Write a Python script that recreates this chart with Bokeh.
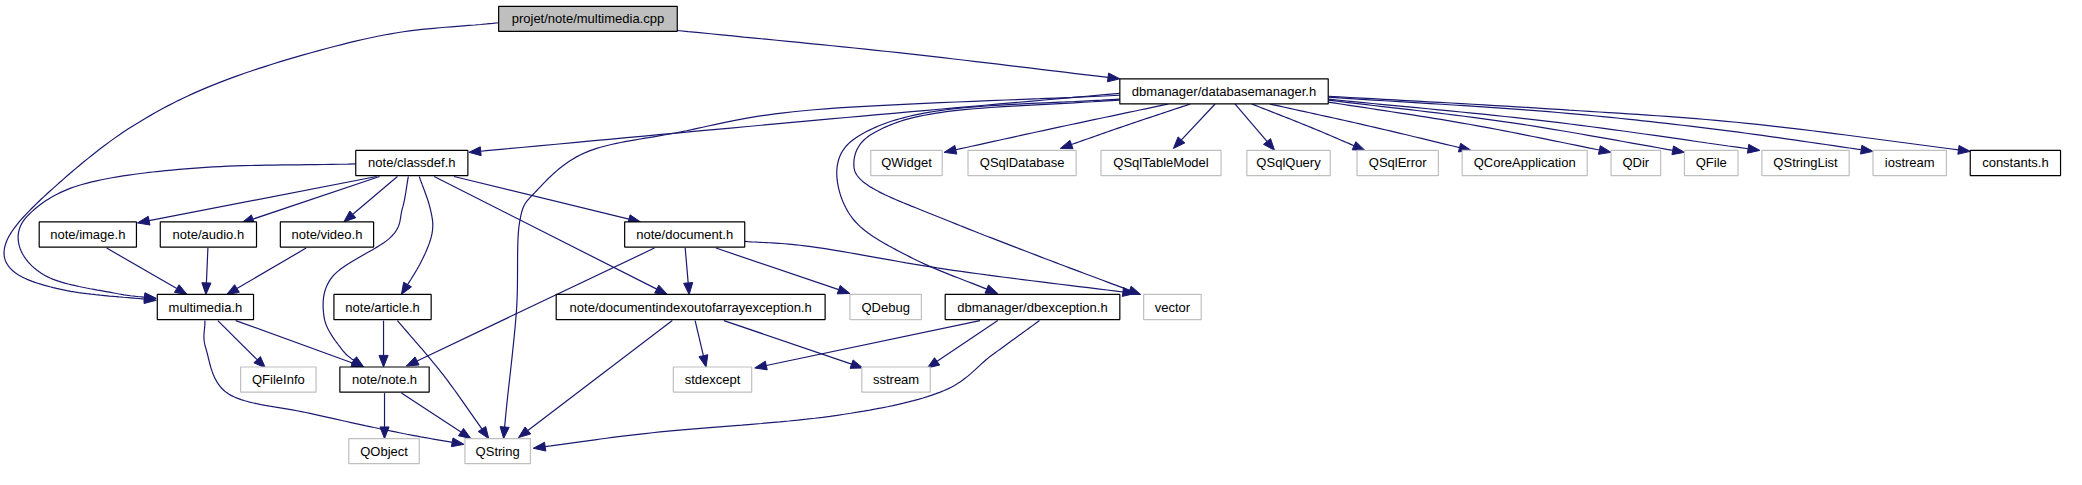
from bokeh.plotting import figure
from bokeh.models import Range1d
from bokeh.core.properties import value
from bokeh.embed import file_html
from bokeh.resources import INLINE
import numpy as np

# include graph of projet/note/multimedia.cpp
labels = [
    "projet/note/multimedia.cpp", "dbmanager/databasemanager.h", "note/classdef.h",
    "QWidget", "QSqlDatabase", "QSqlTableModel", "QSqlQuery", "QSqlError",
    "QCoreApplication", "QDir", "QFile", "QStringList", "iostream", "constants.h",
    "note/image.h", "note/audio.h", "note/video.h", "note/document.h",
    "multimedia.h", "note/article.h", "note/documentindexoutofarrayexception.h",
    "QDebug", "dbmanager/dbexception.h", "vector", "QFileInfo", "note/note.h",
    "stdexcept", "sstream", "QObject", "QString",
]
# root = the file itself, doc = documented header, ext = external header
kinds = [
    "root", "doc", "doc",
    "ext", "ext", "ext", "ext", "ext",
    "ext", "ext", "ext", "ext", "ext", "doc",
    "doc", "doc", "doc", "doc",
    "doc", "doc", "doc",
    "ext", "doc", "ext", "ext", "doc",
    "ext", "ext", "ext", "ext",
]
edges = [
    ("projet/note/multimedia.cpp", "dbmanager/databasemanager.h"),
    ("projet/note/multimedia.cpp", "multimedia.h"),
    ("dbmanager/databasemanager.h", "note/classdef.h"),
    ("dbmanager/databasemanager.h", "QString"),
    ("dbmanager/databasemanager.h", "dbmanager/dbexception.h"),
    ("dbmanager/databasemanager.h", "vector"),
    ("dbmanager/databasemanager.h", "QWidget"),
    ("dbmanager/databasemanager.h", "QSqlDatabase"),
    ("dbmanager/databasemanager.h", "QSqlTableModel"),
    ("dbmanager/databasemanager.h", "QSqlQuery"),
    ("dbmanager/databasemanager.h", "QSqlError"),
    ("dbmanager/databasemanager.h", "QCoreApplication"),
    ("dbmanager/databasemanager.h", "QDir"),
    ("dbmanager/databasemanager.h", "QFile"),
    ("dbmanager/databasemanager.h", "QStringList"),
    ("dbmanager/databasemanager.h", "iostream"),
    ("dbmanager/databasemanager.h", "constants.h"),
    ("note/classdef.h", "multimedia.h"),
    ("note/classdef.h", "note/image.h"),
    ("note/classdef.h", "note/audio.h"),
    ("note/classdef.h", "note/video.h"),
    ("note/classdef.h", "note/note.h"),
    ("note/classdef.h", "note/article.h"),
    ("note/classdef.h", "note/documentindexoutofarrayexception.h"),
    ("note/classdef.h", "note/document.h"),
    ("note/image.h", "multimedia.h"),
    ("note/audio.h", "multimedia.h"),
    ("note/video.h", "multimedia.h"),
    ("note/document.h", "note/note.h"),
    ("note/document.h", "note/documentindexoutofarrayexception.h"),
    ("note/document.h", "QDebug"),
    ("note/document.h", "vector"),
    ("multimedia.h", "QFileInfo"),
    ("multimedia.h", "note/note.h"),
    ("multimedia.h", "QString"),
    ("note/article.h", "note/note.h"),
    ("note/article.h", "QString"),
    ("note/note.h", "QObject"),
    ("note/note.h", "QString"),
    ("note/documentindexoutofarrayexception.h", "QString"),
    ("note/documentindexoutofarrayexception.h", "stdexcept"),
    ("note/documentindexoutofarrayexception.h", "sstream"),
    ("dbmanager/dbexception.h", "stdexcept"),
    ("dbmanager/dbexception.h", "sstream"),
    ("dbmanager/dbexception.h", "QString"),
]

# layout as produced by dot (pixels, y downwards): left, right, rank
rank_top = [6, 81, 155, 229, 304, 379, 453]
box_h = 26
layout = {
    "projet/note/multimedia.cpp": (502, 682, 0),
    "dbmanager/databasemanager.h": (1128, 1338, 1),
    "note/classdef.h": (358, 471, 2),
    "QWidget": (877, 949, 2),
    "QSqlDatabase": (975, 1084, 2),
    "QSqlTableModel": (1109, 1230, 2),
    "QSqlQuery": (1256, 1340, 2),
    "QSqlError": (1367, 1449, 2),
    "QCoreApplication": (1473, 1599, 2),
    "QDir": (1623, 1673, 2),
    "QFile": (1697, 1751, 2),
    "QStringList": (1775, 1863, 2),
    "iostream": (1887, 1961, 2),
    "constants.h": (1985, 2076, 2),
    "note/image.h": (39, 137, 3),
    "note/audio.h": (161, 258, 3),
    "note/video.h": (282, 376, 3),
    "note/document.h": (629, 750, 3),
    "multimedia.h": (158, 255, 4),
    "note/article.h": (336, 434, 4),
    "note/documentindexoutofarrayexception.h": (560, 831, 4),
    "QDebug": (856, 928, 4),
    "dbmanager/dbexception.h": (952, 1128, 4),
    "vector": (1152, 1210, 4),
    "QFileInfo": (242, 318, 5),
    "note/note.h": (342, 432, 5),
    "stdexcept": (678, 757, 5),
    "sstream": (868, 937, 5),
    "QObject": (351, 422, 6),
    "QString": (468, 534, 6),
}

# spline waypoints of each edge, start ... arrow tip
routes = [
    [(682, 31), (905, 54), (1128, 81)],
    [(502, 23), (380, 37), (233, 80), (133, 130), (50, 197), (7, 247), (13, 280), (67, 300), (157, 310)],
    [(1128, 96), (820, 124), (472, 157)],
    [(1128, 98), (820, 113), (680, 137), (590, 157), (540, 197), (523, 230), (520, 320), (510, 420), (507, 453)],
    [(1128, 102), (953, 113), (870, 137), (843, 173), (860, 227), (920, 267), (1005, 303)],
    [(1128, 103), (953, 115), (880, 137), (860, 167), (877, 193), (953, 227), (1053, 267), (1149, 304)],
    [(1177, 107), (1062, 132), (951, 157)],
    [(1199, 107), (1132, 130), (1068, 153)],
    [(1224, 107), (1182, 153)],
    [(1244, 107), (1284, 155)],
    [(1261, 107), (1320, 131), (1375, 155)],
    [(1279, 107), (1380, 130), (1482, 155)],
    [(1338, 105), (1480, 128), (1623, 157)],
    [(1338, 103), (1520, 126), (1697, 157)],
    [(1338, 102), (1560, 125), (1773, 155)],
    [(1338, 100), (1560, 115), (1727, 133), (1887, 156)],
    [(1338, 99), (1560, 112), (1760, 127), (1985, 156)],
    [(358, 169), (200, 173), (83, 190), (27, 223), (20, 257), (50, 287), (117, 303), (157, 308)],
    [(379, 182), (138, 230)],
    [(382, 182), (243, 230)],
    [(400, 182), (346, 229)],
    [(411, 182), (405, 215), (393, 245), (335, 285), (326, 327), (345, 362), (366, 379)],
    [(422, 182), (433, 215), (435, 240), (424, 270), (404, 304)],
    [(437, 182), (672, 304)],
    [(457, 182), (645, 229)],
    [(107, 256), (188, 304)],
    [(209, 256), (207, 304)],
    [(308, 256), (228, 304)],
    [(659, 256), (409, 378)],
    [(690, 256), (694, 304)],
    [(721, 256), (856, 303)],
    [(750, 249), (820, 255), (960, 279), (1143, 303)],
    [(219, 331), (267, 380)],
    [(237, 331), (366, 379)],
    [(206, 331), (207, 360), (230, 407), (312, 427), (402, 447), (467, 459)],
    [(386, 331), (386, 379)],
    [(400, 331), (446, 387), (492, 453)],
    [(387, 406), (387, 453)],
    [(404, 406), (474, 453)],
    [(677, 331), (522, 452)],
    [(700, 331), (711, 379)],
    [(729, 331), (869, 380)],
    [(987, 331), (760, 380)],
    [(1005, 331), (934, 380)],
    [(1047, 331), (1000, 366), (947, 405), (836, 430), (657, 447), (537, 463)],
]

EDGE = "#191970"


def smooth(pts, n=20):
    pts = np.array(pts, dtype=float)
    if len(pts) < 3:
        return pts
    ext = np.vstack([2 * pts[0] - pts[1], pts, 2 * pts[-1] - pts[-2]])
    out = []
    for i in range(1, len(ext) - 2):
        p0, p1, p2, p3 = ext[i - 1], ext[i], ext[i + 1], ext[i + 2]
        for t in np.linspace(0, 1, n, endpoint=False):
            out.append(0.5 * (2 * p1 + (p2 - p0) * t
                              + (2 * p0 - 5 * p1 + 4 * p2 - p3) * t * t
                              + (3 * p1 - p0 - 3 * p2 + p3) * t ** 3))
    out.append(pts[-1])
    return np.array(out)


def main():
    p = figure(width=2066, height=469, output_backend="svg", toolbar_location=None,
               x_range=Range1d(0, 2082), y_range=Range1d(485, 0), min_border=0)
    p.axis.visible = False
    p.grid.visible = False
    p.outline_line_color = None
    p.background_fill_color = "white"

    # edges: spline body + filled arrow head
    line_xs, line_ys, head_xs, head_ys = [], [], [], []
    L, W = 12.0, 4.6
    for route in routes:
        c = smooth(route)
        tip = c[-1]
        d = np.linalg.norm(c - tip, axis=1)
        back = c[np.argmax(d < L)] if np.any(d < L) else c[0]
        u = (tip - c[d >= L][-1]) if np.any(d >= L) else (tip - c[0])
        u = u / np.linalg.norm(u)
        base = tip - u * L
        keep = c[d > L]
        pts = np.vstack([keep, base])
        line_xs.append(list(pts[:, 0]))
        line_ys.append(list(pts[:, 1]))
        n = np.array([-u[1], u[0]])
        tri = np.array([tip, base + n * W, base - n * W])
        head_xs.append(list(tri[:, 0]))
        head_ys.append(list(tri[:, 1]))
    p.multi_line(line_xs, line_ys, line_color=EDGE, line_width=1.2)
    p.patches(head_xs, head_ys, fill_color=EDGE, line_color=EDGE, line_width=1)

    # nodes
    left = [layout[s][0] for s in labels]
    right = [layout[s][1] for s in labels]
    top = [rank_top[layout[s][2]] for s in labels]
    bottom = [t + box_h for t in top]
    fills = ["#bfbfbf" if k == "root" else "white" for k in kinds]
    borders = ["#bfbfbf" if k == "ext" else "black" for k in kinds]
    p.quad(left=left, right=right, top=top, bottom=bottom,
           fill_color=fills, line_color=borders, line_width=1.2)
    p.text(x=[(a + b) / 2 for a, b in zip(left, right)],
           y=[t + box_h / 2 for t in top], text=labels,
           text_align="center", text_baseline="middle",
           text_font=value("Liberation Sans"), text_font_size="13px",
           text_color="black")

    open("out.html", "w").write(file_html(p, INLINE))


if __name__ == "__main__":
    main()
